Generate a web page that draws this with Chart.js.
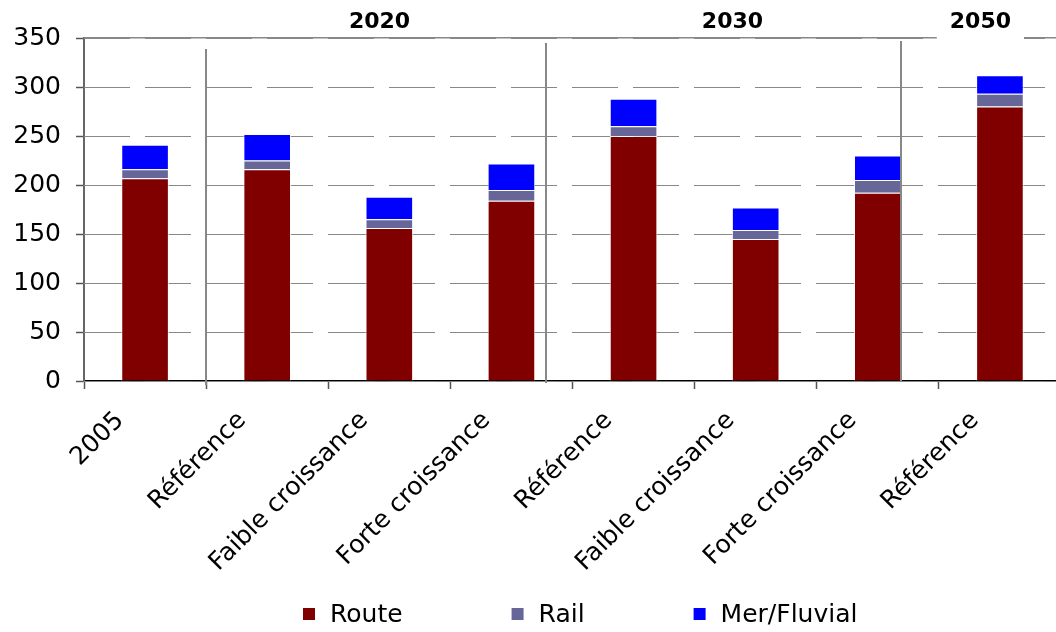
<!DOCTYPE html>
<html>
<head>
<meta charset="utf-8">
<script src="https://cdn.jsdelivr.net/npm/chart.js@4.4.0/dist/chart.umd.min.js"></script>
<style>
  html, body { margin: 0; padding: 0; background: #fff; overflow: hidden; width: 1056px; height: 632px; }
  #wrap { width: 1062px; height: 632px; }
</style>
</head>
<body>
<div id="wrap"><canvas id="c" width="1062" height="632"></canvas></div>
<script>
// ---- Data ----
const categories = ['2005', 'Référence', 'Faible croissance', 'Forte croissance', 'Référence', 'Faible croissance', 'Forte croissance', 'Référence'];
const route = [207, 216, 156, 184, 250, 145, 192, 280];
const rail  = [9, 9, 9, 11, 10, 9, 13, 13];
const mer   = [25, 27, 23, 27, 28, 23, 25, 19];
const seriesNames = ['Route', 'Rail', 'Mer/Fluvial'];
const yTicks = [0, 50, 100, 150, 200, 250, 300, 350];
const groupLabels = ['2020', '2030', '2050'];
const groupPositions = [1.92, 4.81, 6.84];      // in category-index units
const separatorPositions = [0.5, 3.28, 6.19];   // in category-index units

const FONT = 'DejaVu Sans';

const decor = {
  id: 'decor',
  beforeDatasetsDraw(chart) {
    const { ctx, chartArea: a, scales: { y } } = chart;
    ctx.save();
    ctx.fillStyle = '#888888';
    const dash = 46, gap = 15;
    y.ticks.forEach(t => {
      const py = Math.round(y.getPixelForValue(t.value));
      for (let sx = a.left; sx < a.right; sx += dash + gap) {
        ctx.fillRect(sx, py, Math.min(dash, a.right - sx), 1);
      }
    });
    ctx.restore();
  },
  afterDatasetsDraw(chart) {
    const { ctx, chartArea: a, scales: { x } } = chart;
    ctx.save();
    const sepTop = [11, 5, 3], sepBot = [4, 2, 0];
    ctx.fillStyle = '#888888';
    separatorPositions.forEach((s, i) => {
      const px = Math.round(x.getPixelForValue(s));
      ctx.fillRect(px - 1, a.top + sepTop[i], 2, a.bottom + sepBot[i] - a.top - sepTop[i]);
    });
    ctx.fillRect(a.left, a.top - 1, a.right - a.left, 1.5);
    ctx.font = 'bold 22px "' + FONT + '"';
    ctx.textAlign = 'center';
    ctx.textBaseline = 'middle';
    groupLabels.forEach((g, i) => {
      const px = x.getPixelForValue(groupPositions[i]);
      if (i === groupLabels.length - 1) {
        const w = ctx.measureText(g).width;
        ctx.fillStyle = '#ffffff';
        ctx.fillRect(px - w / 2 - 13, a.top - 3, w + 26, 6);
      }
      ctx.fillStyle = '#000000';
      ctx.fillText(g, px, 22);
    });
    ctx.restore();
  },
  afterDraw(chart) {
    const { ctx } = chart;
    ctx.save();
    ctx.font = '25px "' + FONT + '"';
    ctx.textBaseline = 'middle';
    ctx.textAlign = 'left';
    let xPos = 303;
    const yMid = 615;
    chart.data.datasets.forEach(ds => {
      ctx.fillStyle = ds.backgroundColor;
      ctx.fillRect(xPos, yMid - 7, 12, 12);
      ctx.fillStyle = '#000000';
      ctx.fillText(ds.label, xPos + 27, yMid);
      xPos += 27 + ctx.measureText(ds.label).width + 109;
    });
    ctx.restore();
  }
};

new Chart(document.getElementById('c'), {
  type: 'bar',
  data: {
    labels: categories,
    datasets: [
      { label: seriesNames[0], data: route, backgroundColor: '#800000' },
      { label: seriesNames[1], data: rail,  backgroundColor: '#666699' },
      { label: seriesNames[2], data: mer,   backgroundColor: '#0000FF' }
    ].map(d => Object.assign(d, {
      borderColor: 'rgba(255,255,255,0.85)',
      borderWidth: 1,
      categoryPercentage: 1.0,
      barPercentage: 0.39
    }))
  },
  options: {
    responsive: false,
    animation: false,
    devicePixelRatio: 1,
    layout: { padding: { top: 38, left: 0, right: 1, bottom: 0 } },
    plugins: {
      legend: { display: false },
      tooltip: { enabled: false }
    },
    scales: {
      x: {
        stacked: true,
        offset: true,
        grid: {
          offset: true,
          drawOnChartArea: false,
          drawTicks: true,
          tickLength: 8,
          color: 'rgba(0,0,0,0)',
          tickColor: '#555555',
          tickWidth: 1.5
        },
        border: { display: true, color: '#000000', width: 1.5 },
        ticks: {
          autoSkip: false,
          maxRotation: 45,
          minRotation: 45,
          labelOffset: -25,
          padding: 17,
          color: '#000000',
          font: { family: FONT, size: 25, lineHeight: 1.2 }
        },
        afterFit(scale) { scale.height = 251; }
      },
      y: {
        stacked: true,
        min: 0,
        max: 350,
        afterBuildTicks(scale) { scale.ticks = yTicks.map(v => ({ value: v })); },
        grid: {
          drawOnChartArea: false,
          drawTicks: true,
          tickLength: 8,
          color: 'rgba(0,0,0,0)',
          tickColor: '#555555',
          tickWidth: 1.5
        },
        border: { display: true, color: '#666666', width: 2 },
        ticks: {
          padding: 15,
          color: '#000000',
          font: { family: FONT, size: 25 }
        },
        afterFit(scale) { scale.width = 84; }
      }
    }
  },
  plugins: [decor]
});
</script>
</body>
</html>
